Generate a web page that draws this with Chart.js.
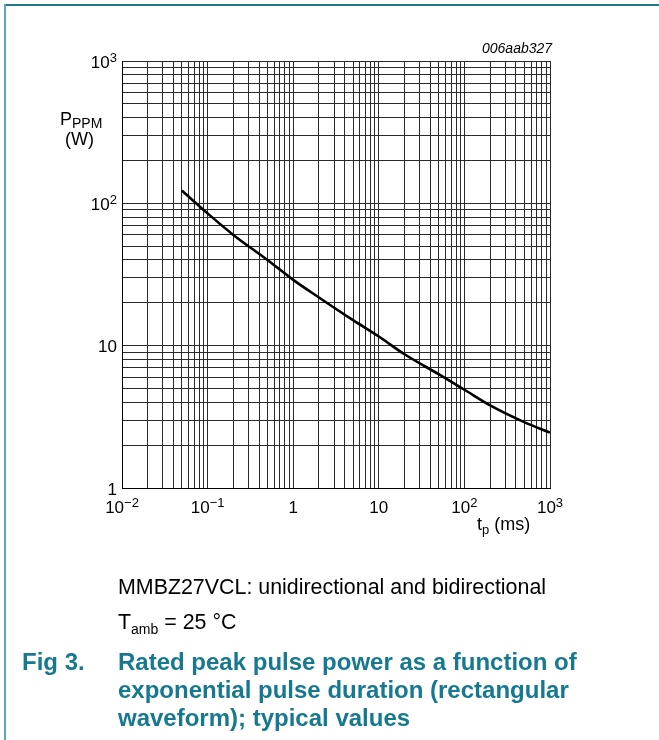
<!DOCTYPE html>
<html>
<head>
<meta charset="utf-8">
<script src="https://cdn.jsdelivr.net/npm/chart.js@4.4.1/dist/chart.umd.min.js"></script>
<style>
  body { margin: 0; background: #fff; font-family: "Liberation Sans", Arial, sans-serif; }
  #page { position: relative; width: 659px; height: 740px; overflow: hidden; background: #fff; }
  #frameTop { position: absolute; left: 4px; top: 4px; right: 0; height: 2px; background: #1b7a8e; }
  #frameLeft { position: absolute; left: 4px; top: 4px; width: 2px; bottom: 0; background: #5ea8be; }
  canvas { position: absolute; left: 0; top: 0; }
  .txt { position: absolute; white-space: nowrap; color: #000; line-height: 1; }
  .txt sub { font-size: 0.68em; vertical-align: -0.22em; line-height: 0; }
  .cap { color: #16798f; font-weight: bold; font-size: 24px; line-height: 28px; }
</style>
</head>
<body>
<div id="page">
  <canvas id="chart" width="659" height="740"></canvas>
  <div id="frameTop"></div>
  <div id="frameLeft"></div>

  <div class="txt" style="left:482px; top:41px; font-size:14px; font-style:italic;">006aab327</div>
  <div class="txt" style="left:60px; top:110px; font-size:18px;">P<sub style="font-size:14px; vertical-align:-3px;">PPM</sub></div>
  <div class="txt" style="left:65px; top:130px; font-size:18px;">(W)</div>
  <div class="txt" style="left:477px; top:515px; font-size:18px;">t<sub style="font-size:13px; vertical-align:-4px;">p</sub> (ms)</div>

  <div class="txt" style="left:118px; top:577px; font-size:21.4px;">MMBZ27VCL: unidirectional and bidirectional</div>
  <div class="txt" style="left:118px; top:612px; font-size:21.4px;">T<sub style="font-size:14px; vertical-align:-5px;">amb</sub> = 25 °C</div>

  <div class="txt cap" style="left:22px; top:648px;">Fig 3.</div>
  <div class="txt cap" style="left:118px; top:648px;">Rated peak pulse power as a function of<br>exponential pulse duration (rectangular<br>waveform); typical values</div>
</div>

<script>
// pulse duration t_p (ms) and rated peak pulse power P_PPM (W)
const tpValues   = [0.05, 0.1, 0.2, 0.5, 1, 2, 5, 10, 20, 50, 100, 200, 500, 1000];
const pppmValues = [123, 85, 60, 40, 29, 21.8, 15.1, 11.6, 8.7, 6.3, 4.9, 3.8, 2.9, 2.45];

// axis decades and their labels (base + exponent)
const xDecades = [0.01, 0.1, 1, 10, 100, 1000];
const xTickBase = ['10', '10', '1', '10', '10', '10'];
const xTickExp  = ['\u22122', '\u22121', '', '', '2', '3'];

const yDecades = [1, 10, 100, 1000];
const yTickBase = ['1', '10', '10', '10'];
const yTickExp  = ['', '', '2', '3'];

// grid lines at 1..9 of every decade
function decadeGrid(decades) {
    const out = [];
    decades.forEach((d, i) => {
        if (i === decades.length - 1) { out.push(d); return; }
        for (let k = 1; k <= 9; k++) out.push(+(d * k).toPrecision(6));
    });
    return out;
}

const tickLabels = {
    id: 'tickLabels',
    afterDraw(chart) {
        const c = chart.ctx;
        const xs = chart.scales.x, ys = chart.scales.y;
        const baseFont = '17px "Liberation Sans", Arial, sans-serif';
        const expFont = '13px "Liberation Sans", Arial, sans-serif';
        c.save();
        c.fillStyle = '#000';
        c.textBaseline = 'alphabetic';
        c.textAlign = 'left';

        xDecades.forEach((v, i) => {
            c.font = baseFont;
            const wb = c.measureText(xTickBase[i]).width;
            c.font = expFont;
            const we = xTickExp[i] ? c.measureText(xTickExp[i]).width : 0;
            const px = xs.getPixelForValue(v);
            const left = px - (wb + we) / 2;
            c.font = baseFont;
            c.fillText(xTickBase[i], left, 513);
            if (xTickExp[i]) {
                c.font = expFont;
                c.fillText(xTickExp[i], left + wb, 507);
            }
        });

        yDecades.forEach((v, i) => {
            c.font = baseFont;
            const wb = c.measureText(yTickBase[i]).width;
            c.font = expFont;
            const we = yTickExp[i] ? c.measureText(yTickExp[i]).width : 0;
            const py = ys.getPixelForValue(v) + 6.5;
            const right = 117;
            c.font = baseFont;
            c.fillText(yTickBase[i], right - we - wb, py);
            if (yTickExp[i]) {
                c.font = expFont;
                c.fillText(yTickExp[i], right - we, py - 6);
            }
        });
        c.restore();
    }
};

const points = tpValues.map((t, i) => ({ x: t, y: pppmValues[i] }));

new Chart(document.getElementById('chart'), {
    type: 'line',
    data: {
        datasets: [{
            data: points,
            borderColor: '#000',
            borderWidth: 2.6,
            pointRadius: 0,
            fill: false,
            cubicInterpolationMode: 'monotone'
        }]
    },
    options: {
        responsive: false,
        animation: false,
        events: [],
        layout: { padding: { left: 122, right: 109, top: 61, bottom: 252 } },
        plugins: { legend: { display: false }, tooltip: { enabled: false } },
        scales: {
            x: {
                type: 'logarithmic',
                min: 0.01,
                max: 1000,
                afterBuildTicks: (scale) => {
                    scale.ticks = decadeGrid(xDecades).map(v => ({ value: v }));
                },
                ticks: { display: false, autoSkip: false },
                grid: { color: '#2a2a2a', lineWidth: 1, drawTicks: false },
                border: { color: '#000', width: 1 }
            },
            y: {
                type: 'logarithmic',
                min: 1,
                max: 1000,
                afterBuildTicks: (scale) => {
                    scale.ticks = decadeGrid(yDecades).map(v => ({ value: v }));
                },
                ticks: { display: false, autoSkip: false },
                grid: { color: '#2a2a2a', lineWidth: 1, drawTicks: false },
                border: { color: '#000', width: 1 }
            }
        }
    },
    plugins: [tickLabels]
});
</script>
</body>
</html>
